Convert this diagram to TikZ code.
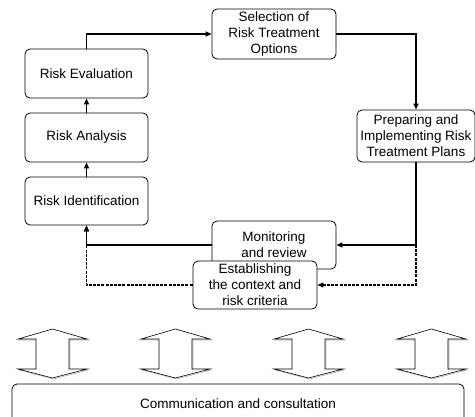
\documentclass[tikz,border=0pt]{standalone}
\usepackage{fontspec}
\setmainfont{Liberation Sans}
\usetikzlibrary{arrows.meta}
\begin{document}
\begin{tikzpicture}[x=1pt,y=-1pt,
  font=\fontsize{13.5}{16}\selectfont,
  procbox/.style={draw=black,line width=0.8pt,rounded corners=5pt,fill=white,
    align=center,inner sep=0pt,minimum width=#1},
  flow/.style={line width=1.3pt,-{Triangle[length=6pt,width=5pt]}},
  dflow/.style={line width=1.1pt,dash pattern=on 3pt off 1.2pt,-{Triangle[length=6pt,width=5pt]}},
  dblarrow/.style={draw=black,line width=0.6pt,fill=white}]
\useasboundingbox (0,0) rectangle (475,416);
\clip (0,0) rectangle (475,416);

% process steps
\node[procbox=123pt,minimum height=49pt] (eval) at (86.5,73.5) {Risk Evaluation};
\node[procbox=123pt,minimum height=49pt] (anal) at (86.5,137.5) {Risk Analysis};
\node[procbox=123pt,minimum height=48pt] (ident) at (86.5,201) {Risk Identification};
\node[procbox=124pt,minimum height=50pt] (sel) at (274,34) {Selection of\\Risk Treatment\\Options};
\node[procbox=118pt,minimum height=52pt] (prep) at (416,136) {Preparing and\\Implementing Risk\\Treatment Plans};
\node[procbox=124pt,minimum height=48pt] (mon) at (274,245) {Monitoring\\and review};
\node[procbox=124pt,minimum height=48pt] (est) at (255,285) {Establishing\\the context and\\risk criteria};

% connectors
\draw[flow] (anal.north) -- (eval.south);
\draw[flow] (ident.north) -- (anal.south);
\draw[flow] (eval.north) |- (sel.west);
\draw[flow] (sel.east) -| (prep.north);
\draw[flow] (prep.south) |- (mon.east);
\coordinate (split) at (prep.south |- mon.east);
\draw[dflow] (split) |- (est.east);
\draw[flow] (mon.west) -| (ident.south);
\draw[dflow] (est.west) -| (ident.south);

% two-way arrows towards communication
\foreach \xa/\nm in {18/da, 141/db, 274/dc, 397/dd}{
  \begin{scope}[shift={(\xa,0)}]
    \draw[gray!60,line width=0.6pt] (35.5,330) -- (70,340) -- (52,340) -- (52,370) -- (70,370) -- (35.5,379) -- (1,370) -- (19,370) -- (19,340) -- (1,340) -- cycle;
    \path[dblarrow] (34.5,329) -- (69,339) -- (51,339) -- (51,369) -- (69,369) -- (34.5,378) -- (0,369) -- (18,369) -- (18,339) -- (0,339) -- cycle;
    \coordinate (\nm) at (34.5,353);
  \end{scope}
}

% communication bar
\node[procbox=452pt,minimum height=40pt] (comm) at (238,404) {Communication and consultation};
\end{tikzpicture}
\end{document}
